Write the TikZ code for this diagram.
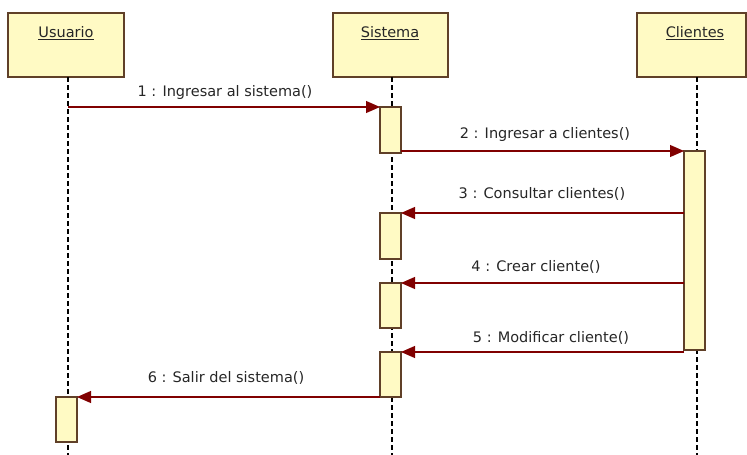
\documentclass[tikz,border=0pt]{standalone}
\usepackage{fontspec}
\setmainfont{DejaVu Sans}
\usetikzlibrary{arrows.meta}
\definecolor{boxfill}{RGB}{255,250,196}
\definecolor{boxline}{RGB}{96,64,40}
\definecolor{msgline}{RGB}{128,0,0}
\begin{document}
\begin{tikzpicture}[x=1pt,y=-1pt,
  objbox/.style={draw=boxline,fill=boxfill,line width=1.1pt},
  actbox/.style={draw=boxline,fill=boxfill,line width=1.1pt},
  lifeline/.style={draw=black,dash pattern=on 5pt off 3pt,line width=1.2pt},
  msg/.style={draw=msgline,line width=1.1pt,-{Triangle[length=14pt,width=12pt]}},
  lbl/.style={font=\fontsize{14.5}{17}\selectfont,text=black!85,inner sep=0pt}]
\useasboundingbox (0,0) rectangle (747,455);
% object heads
\draw[objbox] (8,13) rectangle (124,77);
\draw[objbox] (333,13) rectangle (448,77);
\draw[objbox] (637,13) rectangle (746,77);
\node[lbl] (usuario) at (66,33) {\underline{Usuario}};
\node[lbl] (sistema) at (390,33) {\underline{Sistema}};
\node[lbl] (clientes) at (695,33) {\underline{Clientes}};
% lifelines
\coordinate (uTop) at (68,77);
\coordinate (uBot) at (68,455);
\coordinate (sTop) at (392,77);
\coordinate (sBot) at (392,455);
\coordinate (cTop) at (697,77);
\coordinate (cBot) at (697,455);
\draw[lifeline] (uTop) -- (uBot);
\draw[lifeline] (sTop) -- (sBot);
\draw[lifeline] (cTop) -- (cBot);
% activations
\draw[actbox] (380,107) rectangle (401,153);
\draw[actbox] (684,151) rectangle (705,350);
\draw[actbox] (380,213) rectangle (401,259);
\draw[actbox] (380,283) rectangle (401,328);
\draw[actbox] (380,352) rectangle (401,397);
\draw[actbox] (56,397) rectangle (77,442);
% message end points
\coordinate (m1a) at (68,107);  \coordinate (m1b) at (380,107);
\coordinate (m2a) at (401,151); \coordinate (m2b) at (684,151);
\coordinate (m3a) at (684,213); \coordinate (m3b) at (401,213);
\coordinate (m4a) at (684,283); \coordinate (m4b) at (401,283);
\coordinate (m5a) at (684,352); \coordinate (m5b) at (401,352);
\coordinate (m6a) at (380,397); \coordinate (m6b) at (77,397);
\draw[msg] (m1a) -- (m1b);
\draw[msg] (m2a) -- (m2b);
\draw[msg] (m3a) -- (m3b);
\draw[msg] (m4a) -- (m4b);
\draw[msg] (m5a) -- (m5b);
\draw[msg] (m6a) -- (m6b);
% message labels
\node[lbl] (l1) at (225,92) {1 : Ingresar al sistema()};
\node[lbl] (l2) at (545,134) {2 : Ingresar a clientes()};
\node[lbl] (l3) at (542,194) {3 : Consultar clientes()};
\node[lbl] (l4) at (536,267) {4 : Crear cliente()};
\node[lbl] (l5) at (551,338) {5 : Modificar cliente()};
\node[lbl] (l6) at (226,378) {6 : Salir del sistema()};
\end{tikzpicture}
\end{document}
